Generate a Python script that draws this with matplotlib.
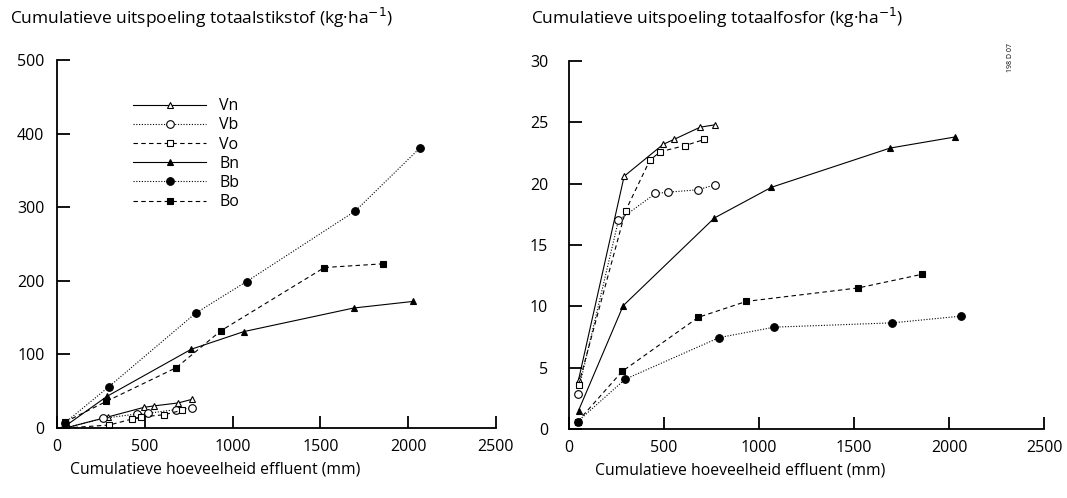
import matplotlib.pyplot as plt
from matplotlib.ticker import MultipleLocator

plt.rcParams['font.family'] = ['Open Sans', 'DejaVu Sans']

# cumulative effluent (mm) per treatment
vn_x = [50, 290, 495, 552, 690, 770]
vb_x = [45, 260, 455, 520, 678, 768]
vo_x = [50, 298, 425, 480, 610, 712]
bn_x = [50, 285, 765, 1065, 1690, 2030]
bb_x = [45, 295, 790, 1080, 1700, 2065]
bo_x = [45, 280, 680, 933, 1523, 1855]

# cumulative total nitrogen leaching (kg/ha)
vn_n = [0, 15, 28, 30, 34, 39]
vb_n = [0, 13, 19, 20, 25, 27]
vo_n = [0, 4, 12, 15, 18, 24]
bn_n = [3, 43, 107, 131, 163, 172]
bb_n = [7, 56, 156, 199, 295, 380]
bo_n = [8, 36, 82, 132, 218, 223]

# cumulative total phosphorus leaching (kg/ha)
vn_p = [4.0, 20.6, 23.2, 23.6, 24.6, 24.8]
vb_p = [2.85, 17.0, 19.2, 19.3, 19.5, 19.9]
vo_p = [3.6, 17.8, 21.9, 22.6, 23.1, 23.6]
bn_p = [1.5, 10.05, 17.2, 19.7, 22.9, 23.8]
bb_p = [0.6, 4.05, 7.45, 8.3, 8.65, 9.2]
bo_p = [0.6, 4.7, 9.1, 10.4, 11.5, 12.6]

labels = ['Vn', 'Vb', 'Vo', 'Bn', 'Bb', 'Bo']
xs = [vn_x, vb_x, vo_x, bn_x, bb_x, bo_x]
n_vals = [vn_n, vb_n, vo_n, bn_n, bb_n, bo_n]
p_vals = [vn_p, vb_p, vo_p, bn_p, bb_p, bo_p]

styles = [
    dict(ls='-', marker='^', mfc='white', ms=5),
    dict(ls=(0, (1, 1.5)), marker='o', mfc='white', ms=5.5),
    dict(ls=(0, (4, 3)), marker='s', mfc='white', ms=5),
    dict(ls='-', marker='^', mfc='black', ms=5),
    dict(ls=(0, (1, 1.5)), marker='o', mfc='black', ms=5.5),
    dict(ls=(0, (4, 3)), marker='s', mfc='black', ms=4.5),
]

fig = plt.figure(figsize=(10.67, 4.98), dpi=100)
ax1 = fig.add_axes([0.0534, 0.1406, 0.4114, 0.739])
ax2 = fig.add_axes([0.5333, 0.1386, 0.4452, 0.739])

for ax, vals in ((ax1, n_vals), (ax2, p_vals)):
    for x, y, lab, st in zip(xs, vals, labels, styles):
        ax.plot(x, y, color='black', lw=0.8, mec='black', mew=0.8,
                label=lab, **st)
    ax.set_xlim(0, 2500)
    ax.xaxis.set_major_locator(MultipleLocator(500))
    for s in ('top', 'right'):
        ax.spines[s].set_visible(False)
    for s in ('left', 'bottom'):
        ax.spines[s].set_linewidth(1.3)
    ax.tick_params(direction='in', length=9, width=1.3, labelsize=11.5)
    ax.tick_params(axis='x', pad=8)
    ax.set_xlabel('Cumulatieve hoeveelheid effluent (mm)', fontsize=11.3)
    ax.xaxis.set_label_coords(0.36, -0.09)

ax1.set_ylim(0, 500)
ax1.yaxis.set_major_locator(MultipleLocator(100))
ax1.tick_params(axis='y', pad=9)
ax2.set_ylim(0, 30)
ax2.yaxis.set_major_locator(MultipleLocator(5))
ax2.tick_params(axis='y', pad=15)

fig.text(0.009, 0.963, 'Cumulatieve uitspoeling totaalstikstof (kg·ha$^{-1}$)',
         fontsize=12.5, va='center')
fig.text(0.498, 0.963, 'Cumulatieve uitspoeling totaalfosfor (kg·ha$^{-1}$)',
         fontsize=12.5, va='center')
fig.text(0.947, 0.86, '198 D 07', fontsize=5, rotation=90, ha='center')

ax1.legend(loc='upper left', bbox_to_anchor=(0.155, 0.918), frameon=False,
           handlelength=4.6, numpoints=1, labelspacing=0.2, fontsize=11.5,
           handletextpad=0.8, borderpad=0)

fig.savefig('out.png', dpi=100)
